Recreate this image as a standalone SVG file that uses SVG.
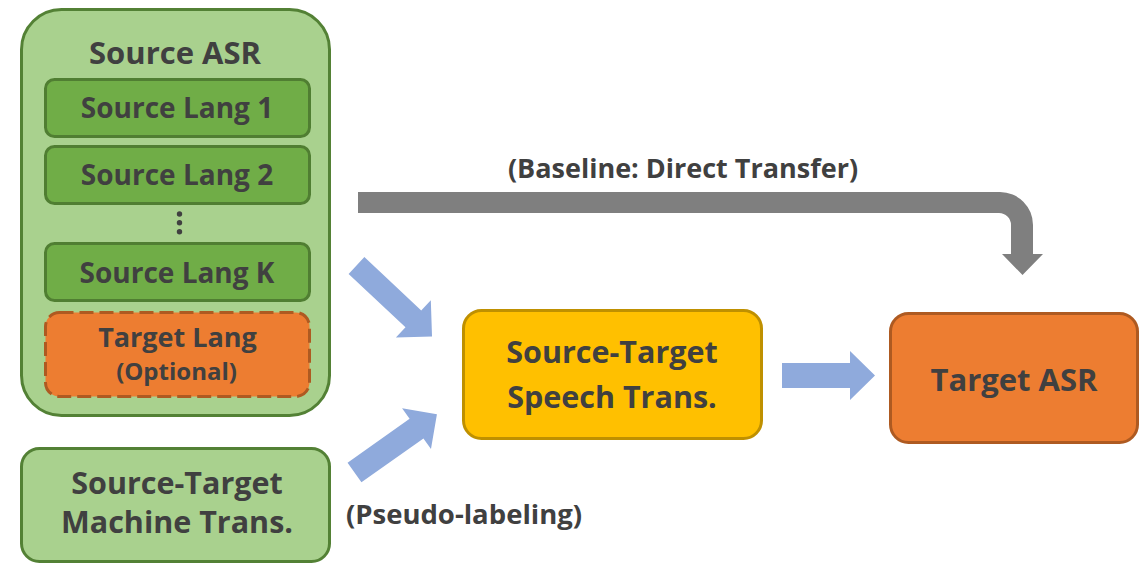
<svg xmlns="http://www.w3.org/2000/svg" width="1145" height="564" viewBox="0 0 1145 564">
<style>
text{font-family:"Open Sans","Liberation Sans",sans-serif;font-weight:700;fill:#404040;text-anchor:middle}
.outer{fill:#A9D18E;stroke:#538135;stroke-width:3}
.inner{fill:#70AD47;stroke:#507E32;stroke-width:3}
.orange{fill:#ED7D31;stroke:#AE5A21;stroke-width:3}
.yellow{fill:#FFC000;stroke:#BF9000;stroke-width:3}
.blue{fill:#8FAADC}
.gray{fill:#7F7F7F}
</style>
<rect width="1145" height="564" fill="#fff"/>
<g id="source-asr">
<rect class="outer" x="21.5" y="9.5" width="308" height="406" rx="40"/>
<text x="175" y="64" font-size="31">Source ASR</text>
</g>
<g id="source-lang-1">
<rect class="inner" x="45.5" y="79.5" width="264" height="57" rx="9"/>
<text x="177" y="118" font-size="28">Source Lang 1</text>
</g>
<g id="source-lang-2">
<rect class="inner" x="45.5" y="146.5" width="264" height="57" rx="9"/>
<text x="177" y="185" font-size="28">Source Lang 2</text>
</g>
<g id="ellipsis" fill="#404040">
<circle cx="179.5" cy="214" r="2.7"/>
<circle cx="179.5" cy="222.7" r="2.7"/>
<circle cx="179.5" cy="231.7" r="2.7"/>
</g>
<g id="source-lang-k">
<rect class="inner" x="45.5" y="243.5" width="264" height="57" rx="9"/>
<text x="177" y="283" font-size="28">Source Lang K</text>
</g>
<g id="target-lang">
<rect class="orange" x="45.5" y="312.5" width="264" height="84" rx="14" stroke-dasharray="14 6"/>
<text x="177.5" y="347" font-size="27">Target Lang</text>
<text x="176.5" y="380" font-size="24">(Optional)</text>
</g>
<g id="machine-trans">
<rect class="outer" x="21.5" y="448.5" width="308" height="113" rx="18"/>
<text x="177" y="494" font-size="30.5">Source-Target</text>
<text x="177" y="533" font-size="30.5">Machine Trans.</text>
</g>
<g id="speech-trans">
<rect class="yellow" x="463.5" y="310.5" width="298" height="128" rx="18"/>
<text x="612" y="363" font-size="30.5">Source-Target</text>
<text x="612" y="408" font-size="30.5">Speech Trans.</text>
</g>
<g id="target-asr">
<rect class="orange" x="890.5" y="313.5" width="247" height="129" rx="18"/>
<text x="1014" y="391" font-size="31">Target ASR</text>
</g>
<g id="connectors">
<path class="gray" d="M358,192 H1000 A33,33 0 0 1 1033,225 V254 H1043 L1022.5,275 L1002,254 H1011 V225 A12,12 0 0 0 999,213 H358 Z"/>
<path class="blue" d="M0,-11.5 H78 V-25.5 L103.6,0 L78,25.5 V11.5 H0 Z" transform="translate(356.5,265.5) rotate(43.2)"/>
<path class="blue" d="M0,-12 H76 V-25 L101,0 L76,25 V12 H0 Z" transform="translate(354.5,472.5) rotate(-35.3)"/>
<path class="blue" d="M782,363 H850 V351 L875,375.5 L850,400 V388 H782 Z"/>
<text x="683" y="178" font-size="27">(Baseline: Direct Transfer)</text>
<text x="464" y="524" font-size="27.5">(Pseudo-labeling)</text>
</g>
</svg>
